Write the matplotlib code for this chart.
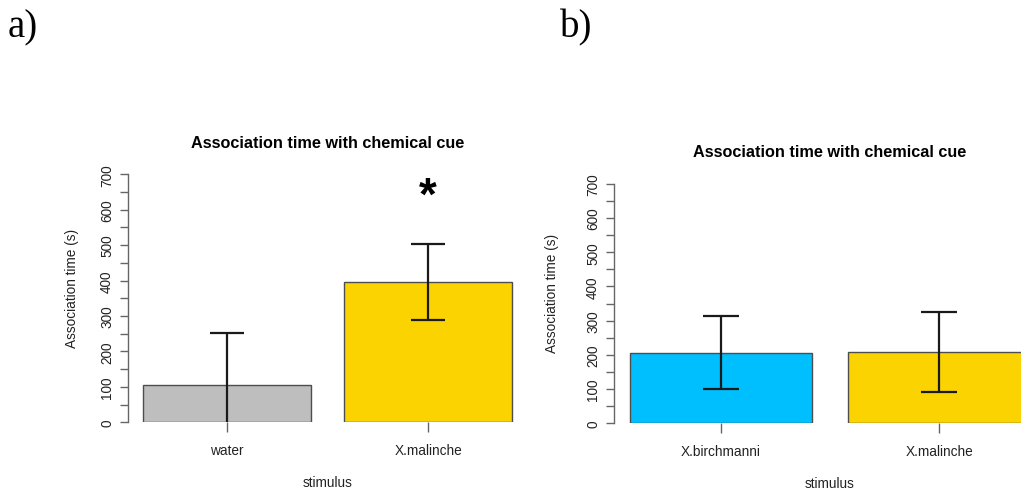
import numpy as np
import matplotlib.pyplot as plt

plt.rcParams['font.family'] = ['Liberation Sans', 'DejaVu Sans']

# Panel a: water vs X.malinche
stim_a = ['water', 'X.malinche']
mean_a = [106, 397]
err_lo_a = [147, 107]
err_hi_a = [147, 107]
colors_a = ['#BEBEBE', '#FAD300']
star_a = 658

# Panel b: X.birchmanni vs X.malinche
stim_b = ['X.birchmanni', 'X.malinche']
mean_b = [206, 209]
err_lo_b = [106, 117]
err_hi_b = [106, 117]
colors_b = ['#00BFFF', '#FAD300']

y_ticks = np.arange(0, 701, 50)
y_labels = [str(v) if v % 100 == 0 else '' for v in y_ticks]

W, H = 1021, 489
fig = plt.figure(figsize=(W / 100, H / 100), dpi=100)


def panel(rect, names, means, lo, hi, cols, cap, ylab_x):
    ax = fig.add_axes(rect)
    x = np.array([0.7, 1.9])
    ax.bar(x, means, width=1.0, color=cols, edgecolor='#4d4d4d', linewidth=1.0, zorder=2)
    ax.errorbar(x, means, yerr=[lo, hi], fmt='none', ecolor='#1a1a1a',
                elinewidth=1.6, capsize=cap, capthick=1.6, zorder=3)
    ax.set_xlim(0.112, 2.488)
    ax.set_ylim(0, 700)
    for s in ['top', 'right', 'bottom']:
        ax.spines[s].set_visible(False)
    ax.spines['left'].set_color('#666666')
    ax.spines['left'].set_linewidth(1.0)
    ax.set_yticks(y_ticks)
    ax.set_yticklabels(y_labels, rotation=90, va='center', fontsize=9.8, color='#222222')
    ax.tick_params(axis='y', length=6, width=1.0, color='#666666', pad=4)
    ax.set_xticks(x)
    ax.set_xticklabels(names, fontsize=9.8, color='#222222')
    ax.tick_params(axis='x', length=7, width=1.0, color='#666666', pad=8)
    ax.set_xlabel('stimulus', fontsize=9.8, color='#222222', labelpad=13)
    ax.set_ylabel('Association time (s)', fontsize=9.8, color='#222222')
    ax.yaxis.set_label_coords(ylab_x, 0.545)
    return ax


ax_a = panel([128 / W, (H - 423.3) / H, (527 - 128) / W, 248 / H],
             stim_a, mean_a, err_lo_a, err_hi_a, colors_a, 12.2, -0.123)
ax_a.set_title('Association time with chemical cue', fontsize=11.7,
               fontweight='bold', pad=20)
ax_a.text(1.9, star_a - 22, '*', ha='center', va='center', fontsize=33,
          fontweight='bold', color='black')

ax_b = panel([614 / W, (H - 424) / H, (1046 - 614) / W, 239 / H],
             stim_b, mean_b, err_lo_b, err_hi_b, colors_b, 13.3, -0.128)
ax_b.set_title('Association time with chemical cue', fontsize=11.7,
               fontweight='bold', pad=20)

# panel letters
fig.text(8 / W, 1 - 28 / H, 'a)', fontsize=28, family='Liberation Serif', va='center')
fig.text(560 / W, 1 - 28 / H, 'b)', fontsize=28, family='Liberation Serif', va='center')

fig.savefig('out.png', dpi=100)
